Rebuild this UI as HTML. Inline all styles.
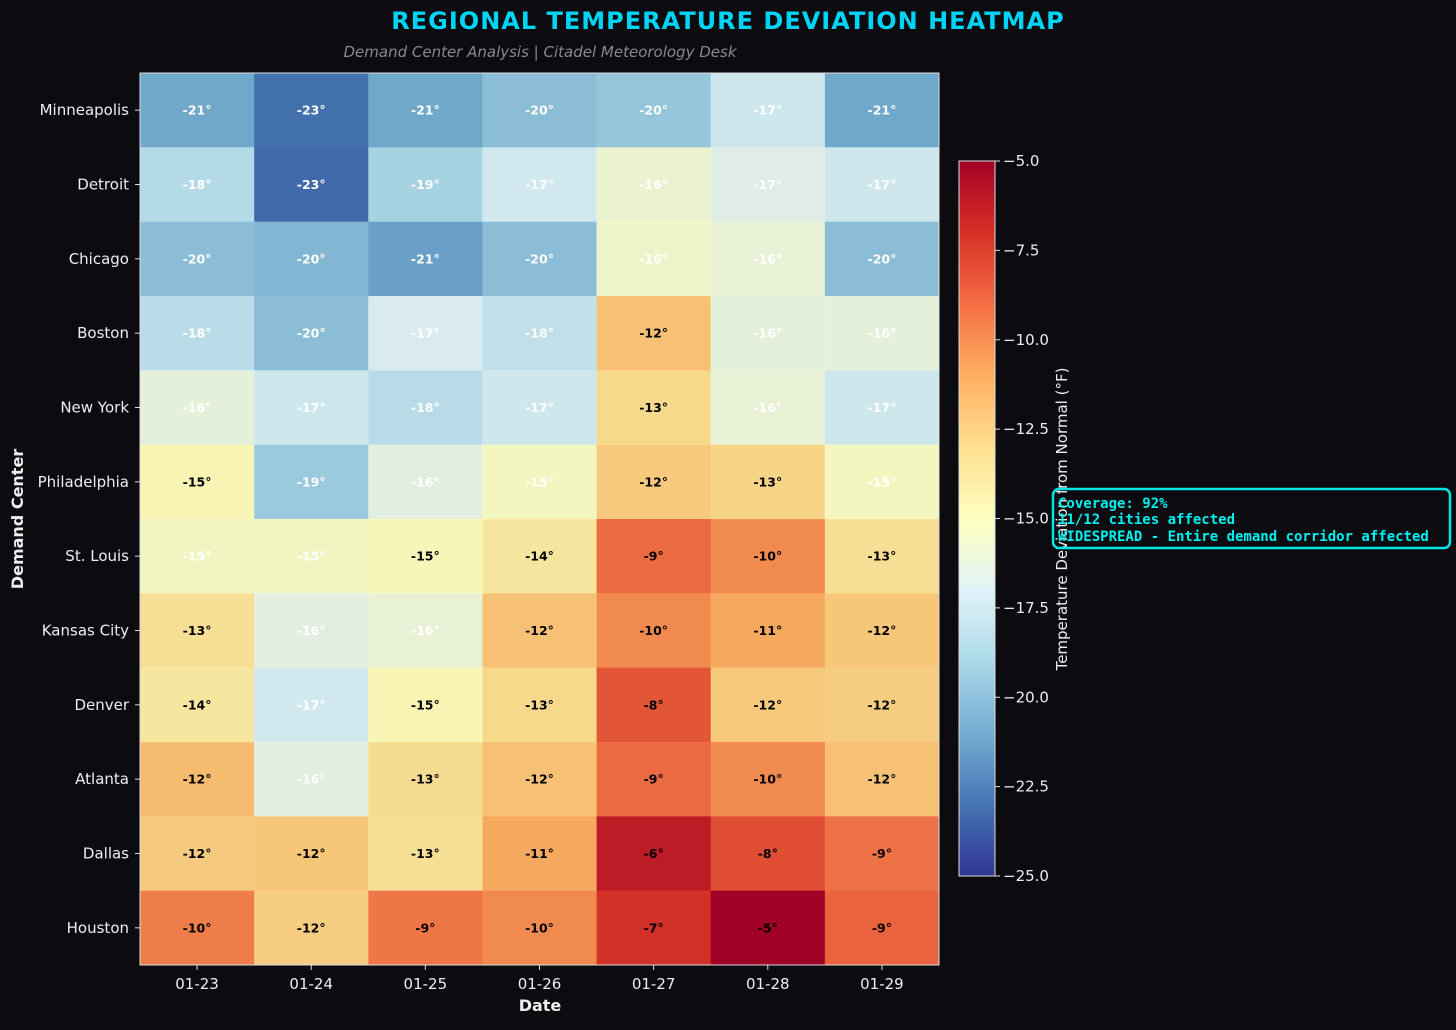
<!DOCTYPE html>
<html><head><meta charset="utf-8"><style>
body{margin:0;background:#0b0b10;}
svg text{font-family:"DejaVu Sans","Liberation Sans",sans-serif;}
</style></head><body>
<svg id="c" width="1456" height="1025" xmlns="http://www.w3.org/2000/svg">
<defs><linearGradient id="cbg" x1="0" y1="1" x2="0" y2="0">
<stop offset="0" stop-color="#313695"/><stop offset="0.1" stop-color="#4575b4"/><stop offset="0.2" stop-color="#74add1"/><stop offset="0.3" stop-color="#abd9e9"/><stop offset="0.4" stop-color="#e0f3f8"/><stop offset="0.5" stop-color="#ffffbf"/><stop offset="0.6" stop-color="#fee090"/><stop offset="0.7" stop-color="#fdae61"/><stop offset="0.8" stop-color="#f46d43"/><stop offset="0.9" stop-color="#d73027"/><stop offset="1" stop-color="#a50026"/>
</linearGradient></defs>
<rect width="1456" height="1025" fill="#0b0b10"/>
<text x="728" y="29" text-anchor="middle" font-size="24" font-weight="bold" fill="#00d4f5" style="letter-spacing:1px">REGIONAL TEMPERATURE DEVIATION HEATMAP</text>
<text x="540" y="57" text-anchor="middle" font-size="15" font-style="italic" fill="#8a8a8a">Demand Center Analysis | Citadel Meteorology Desk</text>
<g id="cells"></g>
<rect x="140" y="73" width="799" height="892" fill="none" stroke="#ddd" stroke-width="1"/>
<text x="540" y="1011" text-anchor="middle" font-size="16" font-weight="bold" fill="#eee">Date</text>
<text transform="translate(23,519) rotate(-90)" text-anchor="middle" font-size="16" font-weight="bold" fill="#eee">Demand Center</text>
<rect x="959" y="161" width="36" height="715" fill="url(#cbg)" stroke="#ddd" stroke-width="1"/>
<g id="cbt"></g>
<text transform="translate(1067,519) rotate(-90)" text-anchor="middle" font-size="15" fill="#eee">Temperature Deviation from Normal (°F)</text>
<g>
<rect x="1053" y="489" width="397" height="59" rx="6" fill="none" stroke="#00e5e5" stroke-width="2.5"/>
<text x="1058" y="508" font-size="14" font-weight="bold" fill="#00f0f0" style="font-family:'DejaVu Sans Mono','Liberation Mono',monospace">Coverage: 92%</text>
<text x="1058" y="524" font-size="14" font-weight="bold" fill="#00f0f0" style="font-family:'DejaVu Sans Mono','Liberation Mono',monospace">11/12 cities affected</text>
<text x="1058" y="541" font-size="14" font-weight="bold" fill="#00f0f0" style="font-family:'DejaVu Sans Mono','Liberation Mono',monospace">WIDESPREAD - Entire demand corridor affected</text>
</g>
</svg>
<script>
const dates=["01-23","01-24","01-25","01-26","01-27","01-28","01-29"];
const cities=["Minneapolis","Detroit","Chicago","Boston","New York","Philadelphia","St. Louis","Kansas City","Denver","Atlanta","Dallas","Houston"];
const values=[
[-21,-23,-21,-20,-19.6,-17.4,-21],
[-18.4,-23.3,-19,-17.3,-15.8,-16.6,-17.4],
[-20,-20.3,-21.3,-20,-15.6,-16,-20],
[-18.2,-20,-17,-18,-12,-16.2,-16.2],
[-16.2,-17.4,-18.3,-17.4,-13,-16,-17.4],
[-14.8,-19.4,-16.4,-15.2,-12.3,-12.8,-15.2],
[-15.3,-15.3,-14.9,-13.8,-9,-10,-13.4],
[-13.4,-16.4,-16,-12,-10,-11,-12.2],
[-13.8,-17.3,-14.8,-13,-8.3,-12.3,-12.5],
[-11.8,-16.4,-13.2,-12,-9,-10,-12],
[-12.4,-12.2,-13.4,-11,-6.2,-8,-9.3],
[-9.6,-12.5,-9.4,-10,-7.1,-5,-8.8]];
const cbTicks=[-5,-7.5,-10,-12.5,-15,-17.5,-20,-22.5,-25];
const vmin=-25,vmax=-5;
const X0=140,W=799,Y0=73,H=892;
const cw=W/dates.length,ch=H/cities.length;
const xPos=i=>X0+i*cw, yPos=j=>Y0+j*ch;
const cbY=v=>161+715*(vmax-v)/(vmax-vmin);
const stops=["#313695","#4575b4","#74add1","#abd9e9","#e0f3f8","#ffffbf","#fee090","#fdae61","#f46d43","#d73027","#a50026"].map(h=>[1,3,5].map(k=>parseInt(h.substr(k,2),16)));
function cmap(v){let t=Math.max(0,Math.min(1,(v-vmin)/(vmax-vmin)))*10;let i=Math.min(9,Math.floor(t)),f=t-i;
const c=stops[i].map((a,k)=>Math.round(a+(stops[i+1][k]-a)*f));return `rgb(${c})`;}
const NS="http://www.w3.org/2000/svg";
const g=document.getElementById('cells'),cb=document.getElementById('cbt');
function mk(t,a,p){const e=document.createElementNS(NS,t);for(const k in a)e.setAttribute(k,a[k]);(p||g).appendChild(e);return e;}
values.forEach((row,j)=>row.forEach((v,i)=>{
 const r=mk('rect',{x:xPos(i),y:yPos(j),width:cw+0.5,height:ch+0.5,fill:cmap(v),'fill-opacity':0.97});
 
 
 const t=mk('text',{x:xPos(i)+cw/2,y:yPos(j)+ch/2+4.5,'text-anchor':'middle','font-size':12.5,'font-weight':'bold',fill:v<-15?'#fff':'#000'});
 t.textContent=Math.round(v)+'°';
 
 
}));
dates.forEach((d,i)=>{
 mk('line',{x1:xPos(i)+cw/2,x2:xPos(i)+cw/2,y1:965,y2:970,stroke:'#ddd'});
 const t=mk('text',{x:xPos(i)+cw/2,y:989,'text-anchor':'middle','font-size':15,fill:'#eee'});
 t.textContent=d;
 
 
});
cities.forEach((c,j)=>{
 mk('line',{x1:135,x2:140,y1:yPos(j)+ch/2,y2:yPos(j)+ch/2,stroke:'#ddd'});
 const t=mk('text',{x:129,y:yPos(j)+ch/2+5,'text-anchor':'end','font-size':15,fill:'#eee'});
 t.textContent=c;
 
 
});
cbTicks.forEach(v=>{
 mk('line',{x1:995,x2:1000,y1:cbY(v),y2:cbY(v),stroke:'#ddd'},cb);
 const t=mk('text',{x:1003,y:cbY(v)+5,'font-size':15,fill:'#eee'},cb);
 t.textContent=v.toFixed(1).replace('-','−');
 
 
});
</script>
</body></html>
